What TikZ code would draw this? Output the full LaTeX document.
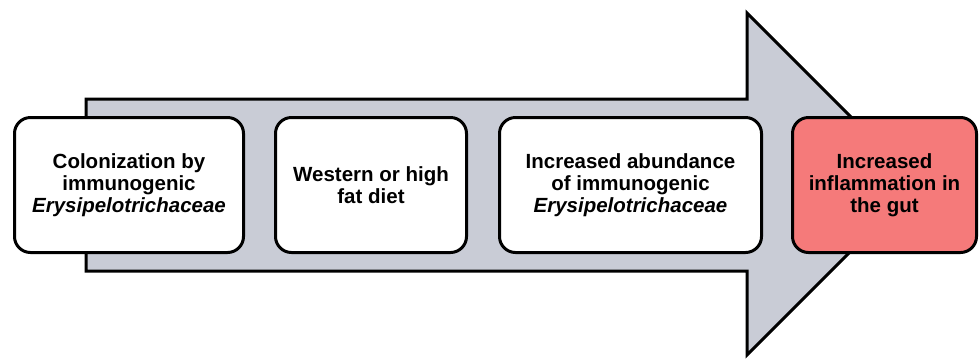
\documentclass[tikz,border=0pt]{standalone}
\usepackage{fontspec}
\setmainfont{Liberation Sans}
\begin{document}
\begin{tikzpicture}[x=1pt,y=-1pt,
  stepbox/.style={draw=black, line width=3pt, rounded corners=16pt, fill=white,
    minimum height=135pt, align=center, inner sep=0pt,
    font=\fontsize{20.5}{22}\selectfont\bfseries},
  bigarrow/.style={draw=black, line width=3pt, fill=arrowgray, line join=miter}]
\definecolor{arrowgray}{RGB}{201,204,214}
\definecolor{inflred}{RGB}{245,122,122}
\useasboundingbox (0,0) rectangle (979,360);
\draw[bigarrow] (86,99) -- (747,99) -- (747,13) -- (918,184) -- (747,355) -- (747,271) -- (86,271) -- cycle;
\node[stepbox, minimum width=229pt] (b1) at (129,185) {Colonization by\\immunogenic\\\textit{Erysipelotrichaceae}};
\node[stepbox, minimum width=191pt] (b2) at (371,185) {Western or high\\fat diet};
\node[stepbox, minimum width=262pt] (b3) at (630.5,185) {Increased abundance\\of immunogenic\\\textit{Erysipelotrichaceae}};
\node[stepbox, minimum width=184pt, fill=inflred] (b4) at (884.5,185) {Increased\\inflammation in\\the gut};
\end{tikzpicture}
\end{document}
